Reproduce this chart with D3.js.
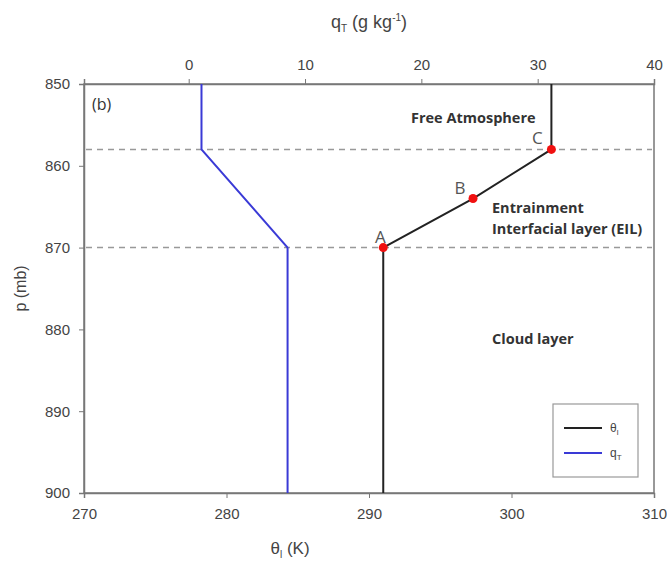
<!DOCTYPE html>
<html>
<head>
<meta charset="utf-8">
<script src="https://cdn.jsdelivr.net/npm/d3@7"></script>
<style>
  body { margin: 0; background: #fff; }
  svg text { font-family: "Liberation Sans", Arial, sans-serif; }
  .note { font-family: "Open Sans", "Noto Sans", sans-serif; fill: #333; }
</style>
</head>
<body>
<script>
const width = 667;
const height = 567;

// theta_l profile (K) vs pressure (mb)
const thetaP = [850, 858, 864, 870, 900];
const thetaV = [302.8, 302.8, 297.3, 291.0, 291.0];
// q_T profile (g/kg) vs pressure (mb)
const qP = [850, 858, 870, 900];
const qV = [1.1, 1.1, 8.5, 8.5];
// marked points A, B, C
const ptLabels = ['A', 'B', 'C'];
const ptP = [870, 864, 858];
const ptV = [291.0, 297.3, 302.8];
// layer boundaries
const bounds = [858, 870];

const pTicks = [850, 860, 870, 880, 890, 900];
const thTicks = [270, 280, 290, 300, 310];
const qTicks = [0, 10, 20, 30, 40];

const margin = { left: 84, right: 13, top: 84, bottom: 74 };

const svg = d3.select('body').append('svg').attr('width', width).attr('height', height);

const x = d3.scaleLinear().domain([270, 310]).range([margin.left, width - margin.right]);
const xq = d3.scaleLinear().domain([-9, 40]).range([margin.left, width - margin.right]);
const y = d3.scaleLinear().domain([850, 900]).range([margin.top, height - margin.bottom]);

const axisColor = '#777';

// frame
svg.append('rect')
    .attr('x', x(270)).attr('y', y(850))
    .attr('width', x(310) - x(270)).attr('height', y(900) - y(850))
    .attr('fill', 'none').attr('stroke', axisColor).attr('stroke-width', 1.5);

function styleAxis(g) {
    g.selectAll('.domain').attr('stroke', axisColor).attr('stroke-width', 1.5);
    g.selectAll('.tick line').attr('stroke', axisColor);
    g.selectAll('.tick text').attr('fill', '#444').style('font-size', '15px');
}

svg.append('g').attr('transform', `translate(0,${y(900)})`)
    .call(d3.axisBottom(x).tickValues(thTicks).tickSize(5).tickPadding(10))
    .call(styleAxis);
svg.append('g').attr('transform', `translate(0,${y(850)})`)
    .call(d3.axisTop(xq).tickValues(qTicks).tickSize(5).tickPadding(9))
    .call(styleAxis);
svg.append('g').attr('transform', `translate(${x(270)},0)`)
    .call(d3.axisLeft(y).tickValues(pTicks).tickSize(5).tickPadding(9))
    .call(styleAxis);

// dashed boundaries
svg.selectAll('.bound')
    .data(bounds)
    .enter().append('line')
    .attr('x1', x(270) + 2).attr('x2', x(310) - 2)
    .attr('y1', d => y(d)).attr('y2', d => y(d))
    .attr('stroke', '#999').attr('stroke-width', 1.5)
    .attr('stroke-dasharray', '6,5');

const thLine = d3.line().x(d => x(d[0])).y(d => y(d[1]));
const qLine = d3.line().x(d => xq(d[0])).y(d => y(d[1]));

svg.append('path')
    .attr('d', qLine(qV.map((v, i) => [v, qP[i]])))
    .attr('fill', 'none').attr('stroke', '#3a3ad6').attr('stroke-width', 2);

svg.append('path')
    .attr('d', thLine(thetaV.map((v, i) => [v, thetaP[i]])))
    .attr('fill', 'none').attr('stroke', '#222').attr('stroke-width', 2);

svg.selectAll('.pt')
    .data(ptV)
    .enter().append('circle')
    .attr('cx', d => x(d)).attr('cy', (d, i) => y(ptP[i]))
    .attr('r', 4.5).attr('fill', '#f01010');

const ptOff = [[-3, -5], [-13, -5], [-14, -5]];
svg.selectAll('.ptlab')
    .data(ptLabels)
    .enter().append('text')
    .attr('class', 'note')
    .attr('x', (d, i) => x(ptV[i]) + ptOff[i][0])
    .attr('y', (d, i) => y(ptP[i]) + ptOff[i][1])
    .attr('text-anchor', 'middle')
    .style('font-size', '17px')
    .style('fill', '#555')
    .text(d => d);

// layer annotations
const notes = [
    ['Free Atmosphere', 411, 123],
    ['Entrainment', 492, 213],
    ['Interfacial layer (EIL)', 492, 234],
    ['Cloud layer', 492, 344]
];
svg.selectAll('.lay')
    .data(notes)
    .enter().append('text')
    .attr('class', 'note')
    .attr('x', d => d[1]).attr('y', d => d[2])
    .style('font-size', '14.5px').style('font-weight', 'bold')
    .text(d => d[0]);
svg.append('text').attr('class', 'note').attr('x', 92).attr('y', 110)
    .style('font-size', '16px').text('(b)');

// axis titles
svg.append('text')
    .attr('transform', `translate(26,${(y(850) + y(900)) / 2}) rotate(-90)`)
    .attr('text-anchor', 'middle').attr('fill', '#444').style('font-size', '16px')
    .text('p (mb)');

const xt = svg.append('text').attr('x', 290).attr('y', 554)
    .attr('text-anchor', 'middle').attr('fill', '#444').style('font-size', '17px');
xt.append('tspan').text('θ');
xt.append('tspan').attr('dy', 4).style('font-size', '10px').text('l');
xt.append('tspan').attr('dy', -4).text(' (K)');

const qt = svg.append('text').attr('x', 369).attr('y', 28)
    .attr('text-anchor', 'middle').attr('fill', '#444').style('font-size', '18px');
qt.append('tspan').text('q');
qt.append('tspan').attr('dy', 4).style('font-size', '10px').text('T');
qt.append('tspan').attr('dy', -4).text(' (g kg');
qt.append('tspan').attr('dy', -7).style('font-size', '10px').text('-1');
qt.append('tspan').attr('dy', 7).text(')');

// legend
const legend = svg.append('g').attr('transform', 'translate(553,404)');
legend.append('rect').attr('width', 85).attr('height', 73)
    .attr('fill', '#fff').attr('stroke', '#999').attr('stroke-width', 1.2);
const legItems = [['θ', 'l', '#222'], ['q', 'T', '#3a3ad6']];
legItems.forEach((it, i) => {
    const ly = 24 + i * 25;
    legend.append('line').attr('x1', 11).attr('x2', 49).attr('y1', ly).attr('y2', ly)
        .attr('stroke', it[2]).attr('stroke-width', 2);
    const t = legend.append('text').attr('x', 57).attr('y', ly + 4)
        .attr('fill', '#444').style('font-size', '12px');
    t.append('tspan').text(it[0]);
    t.append('tspan').attr('dy', 3).style('font-size', '8px').text(it[1]);
});
</script>
</body>
</html>
